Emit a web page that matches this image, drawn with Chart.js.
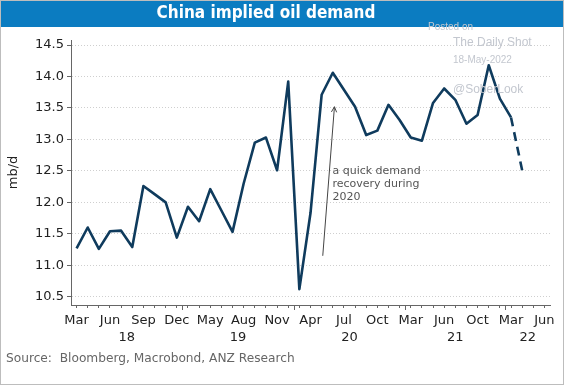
<!DOCTYPE html>
<html>
<head>
<meta charset="utf-8">
<script src="https://cdn.jsdelivr.net/npm/chart.js@4.4.1/dist/chart.umd.min.js"></script>
<style>
  body { margin: 0; background: #fff; }
  canvas { display: block; }
</style>
</head>
<body>
<canvas id="oil-chart" width="564" height="385"></canvas>
<script>
// Categories: Jan/Feb are not in the series, one month missing in 2021
const months = [
    "Mar", "Apr", "May", "Jun", "Jul", "Aug", "Sep", "Oct", "Nov", "Dec",
    "Mar", "Apr", "May", "Jun", "Jul", "Aug", "Sep", "Oct", "Nov", "Dec",
    "Mar", "Apr", "May", "Jun", "Jul", "Aug", "Sep", "Oct", "Nov", "Dec",
    "Mar", "Apr", "May", "Jun", "Jul", "Aug", "Oct", "Nov", "Dec",
    "Mar", "Apr", "May", "Jun"
];
const years = [
    "18", "18", "18", "18", "18", "18", "18", "18", "18", "18",
    "19", "19", "19", "19", "19", "19", "19", "19", "19", "19",
    "20", "20", "20", "20", "20", "20", "20", "20", "20", "20",
    "21", "21", "21", "21", "21", "21", "21", "21", "21",
    "22", "22", "22", "22"
];
// China implied oil demand, mb/d (last point is the dashed estimate)
const demand = [
    11.27, 11.60, 11.26, 11.54, 11.55, 11.29, 12.26, 12.13, 12.00, 11.44,
    11.93, 11.70, 12.21, 11.87, 11.53, 12.30, 12.95, 13.03, 12.51, 13.92,
    10.62, 11.83, 13.71, 14.06, 13.79, 13.52, 13.07, 13.14, 13.55, 13.31,
    13.03, 12.98, 13.58, 13.81, 13.63, 13.25, 13.39, 14.18, 13.65,
    13.35, 12.51
];
const yTicks = [10.5, 11.0, 11.5, 12.0, 12.5, 13.0, 13.5, 14.0, 14.5];
const lastActual = 39;

// annotation, in data coordinates (category index, mb/d)
const noteLines = ["a quick demand", "recovery during", "2020"];
const notePos = [22.97, 12.49];
const arrowFrom = [22.1, 11.15];
const arrowTo = [23.15, 13.52];

const FONT = "'DejaVu Sans', Verdana, sans-serif";

const framePlugin = {
    id: "frame",
    beforeDraw(chart) {
        const ctx = chart.ctx;
        ctx.save();
        ctx.fillStyle = "#0b7cc1";
        ctx.fillRect(0, 0, chart.width, 27);
        ctx.restore();
    },
    afterDraw(chart) {
        const ctx = chart.ctx;
        const x = chart.scales.x;
        const y = chart.scales.y;
        ctx.save();

        // title
        ctx.fillStyle = "#ffffff";
        ctx.font = "bold 17px 'DejaVu Sans Condensed', 'DejaVu Sans', sans-serif";
        ctx.textAlign = "center";
        ctx.textBaseline = "middle";
        ctx.fillText("China implied oil demand", 266, 14);

        // year labels and year separator ticks
        ctx.font = "13px " + FONT;
        ctx.fillStyle = "#222";
        ctx.strokeStyle = "#666";
        ctx.lineWidth = 1;
        let start = 0;
        for (let i = 1; i <= years.length; i++) {
            if (i === years.length || years[i] !== years[start]) {
                const mid = (start + i - 1) / 2;
                ctx.fillText(years[start], x.getPixelForValue(mid), 337.5);
                if (i < years.length) {
                    const px = Math.round(x.getPixelForValue(i - 0.5)) + 0.5;
                    ctx.beginPath();
                    ctx.moveTo(px, x.top);
                    ctx.lineTo(px, x.top + 5);
                    ctx.stroke();
                }
                start = i;
            }
        }

        // annotation text
        ctx.fillStyle = "#555";
        ctx.font = "11px " + FONT;
        ctx.textAlign = "left";
        const nx = x.getPixelForValue(notePos[0]);
        const ny = y.getPixelForValue(notePos[1]);
        noteLines.forEach((line, k) => ctx.fillText(line, nx, ny + k * 13));

        // arrow
        const ax1 = x.getPixelForValue(arrowFrom[0]), ay1 = y.getPixelForValue(arrowFrom[1]);
        const ax2 = x.getPixelForValue(arrowTo[0]), ay2 = y.getPixelForValue(arrowTo[1]);
        const ang = Math.atan2(ay2 - ay1, ax2 - ax1);
        ctx.strokeStyle = "#444";
        ctx.lineWidth = 1;
        ctx.beginPath();
        ctx.moveTo(ax1, ay1);
        ctx.lineTo(ax2, ay2);
        ctx.moveTo(ax2 - 6 * Math.cos(ang - 0.45), ay2 - 6 * Math.sin(ang - 0.45));
        ctx.lineTo(ax2, ay2);
        ctx.lineTo(ax2 - 6 * Math.cos(ang + 0.45), ay2 - 6 * Math.sin(ang + 0.45));
        ctx.stroke();

        // watermark
        ctx.fillStyle = "#c3c7cf";
        ctx.font = "10px 'Liberation Sans', Arial, sans-serif";
        ctx.fillText("Posted on", 428, 27);
        ctx.font = "12px 'Liberation Sans', Arial, sans-serif";
        ctx.fillText("The Daily Shot", 453, 43);
        ctx.font = "10px 'Liberation Sans', Arial, sans-serif";
        ctx.fillText("18-May-2022", 453, 60);
        ctx.font = "12px 'Liberation Sans', Arial, sans-serif";
        ctx.fillText("@SoberLook", 453, 90);

        // source
        ctx.fillStyle = "#666";
        ctx.font = "12.2px " + FONT;
        ctx.fillText("Source:  Bloomberg, Macrobond, ANZ Research", 6, 359);

        // outer frame
        ctx.strokeStyle = "#bdbdbd";
        ctx.strokeRect(0.5, 0.5, chart.width - 1, chart.height - 1);
        ctx.restore();
    }
};

new Chart(document.getElementById("oil-chart"), {
    type: "line",
    data: {
        labels: months.map((m, i) => m + " " + years[i]),
        datasets: [{
            data: demand,
            borderColor: "#0f3b5d",
            borderWidth: 2.6,
            borderJoinStyle: "round",
            pointRadius: 0,
            tension: 0,
            segment: {
                borderDash: ctx => ctx.p0DataIndex >= lastActual ? [9, 6] : undefined
            }
        }]
    },
    options: {
        responsive: false,
        animation: false,
        layout: { padding: { top: 40, right: 14, bottom: 0, left: 0 } },
        plugins: {
            legend: { display: false },
            tooltip: { enabled: false }
        },
        scales: {
            x: {
                offset: true,
                grid: {
                    offset: false,
                    drawOnChartArea: false,
                    drawTicks: true,
                    tickLength: 3,
                    tickColor: "#666"
                },
                border: { color: "#666", width: 1 },
                ticks: {
                    autoSkip: false,
                    maxRotation: 0,
                    padding: 5,
                    color: "#222",
                    font: { family: FONT, size: 13 },
                    callback: (v, i) => i % 3 === 0 ? months[i] : ""
                },
                afterFit: axis => { axis.height = 80; }
            },
            y: {
                min: 10.368,
                max: 14.581,
                afterBuildTicks: axis => { axis.ticks = yTicks.map(v => ({ value: v })); },
                grid: {
                    color: "#cfcfcf",
                    lineWidth: 1,
                    tickLength: 4,
                    tickColor: "#666"
                },
                border: { color: "#666", width: 1, dash: [1, 2] },
                ticks: {
                    padding: 3,
                    color: "#222",
                    font: { family: FONT, size: 13 },
                    callback: v => v.toFixed(1)
                },
                title: {
                    display: true,
                    text: "mb/d",
                    color: "#222",
                    font: { family: FONT, size: 13 },
                    padding: { top: 6, bottom: 0 }
                },
                afterFit: axis => { axis.width = 71; }
            }
        }
    },
    plugins: [framePlugin]
});
</script>
</body>
</html>
